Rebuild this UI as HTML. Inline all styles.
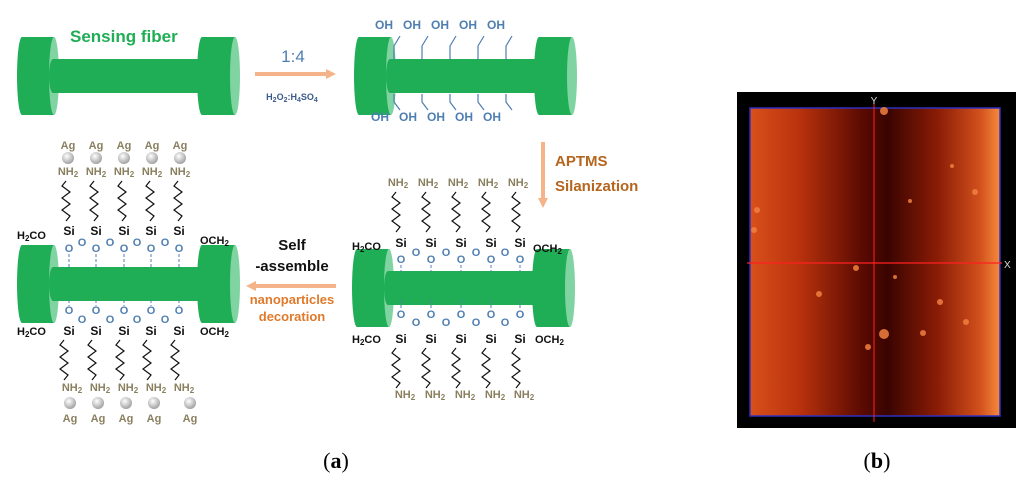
<!DOCTYPE html>
<html><head><meta charset="utf-8"><style>
html,body{margin:0;padding:0;background:#fff;}
svg{display:block;}
text{font-family:"Liberation Sans",sans-serif;font-weight:bold;}
.nh{fill:#8a8060;font-size:11px;text-anchor:middle;}
.ag{fill:#8a8060;font-size:11px;text-anchor:middle;}
.si{fill:#111;font-size:12px;text-anchor:middle;}
.o{fill:#4f7fb0;font-size:11px;text-anchor:middle;}
.oh{fill:#4f7fb0;font-size:12px;text-anchor:middle;}
.k{fill:#111;font-size:11px;}
.z{fill:none;stroke:#111;stroke-width:1.2;}
.d{stroke:#4f7fb0;stroke-width:1;stroke-dasharray:3,2;}
</style></head><body>
<svg width="1024" height="481" viewBox="0 0 1024 481" xmlns="http://www.w3.org/2000/svg">
<defs>
<g id="fib">
 <ellipse cx="5" cy="39" rx="5" ry="39" fill="#1fae55"/>
 <rect x="5" y="0" width="32" height="78" fill="#1fae55"/>
 <ellipse cx="37" cy="39" rx="5" ry="39" fill="#80d4a2"/>
 <rect x="36" y="22" width="150" height="34" fill="#1fae55"/>
 <ellipse cx="36" cy="39" rx="4" ry="17" fill="#1fae55"/>
 <ellipse cx="185" cy="39" rx="5" ry="39" fill="#1fae55"/>
 <rect x="185" y="0" width="33" height="78" fill="#1fae55"/>
 <ellipse cx="218" cy="39" rx="5" ry="39" fill="#80d4a2"/>
</g>
<marker id="ah" markerUnits="userSpaceOnUse" markerWidth="12" markerHeight="12" refX="4" refY="6" orient="auto"><path d="M0,1 L10,6 L0,11 z" fill="#f5b38a"/></marker>
<radialGradient id="sp" cx="0.4" cy="0.35" r="0.7"><stop offset="0" stop-color="#fff"/><stop offset="1" stop-color="#9a9a9a"/></radialGradient>
<linearGradient id="afm" x1="0" x2="1" y1="0" y2="0">
 <stop offset="0" stop-color="#d9501c"/><stop offset="0.2" stop-color="#b8320c"/><stop offset="0.45" stop-color="#5a0a02"/><stop offset="0.55" stop-color="#3a0400"/><stop offset="0.75" stop-color="#8a1c06"/><stop offset="0.92" stop-color="#d2501c"/><stop offset="1" stop-color="#f58a3c"/>
</linearGradient>
<polyline id="zz" class="z" points="0,0 -4,5 4,11 -4,17 4,23 -4,29 4,35 0,40"/>
</defs>

<use href="#fib" x="17" y="37"/>
<use href="#fib" x="354" y="37"/>
<use href="#fib" x="352" y="249"/>
<use href="#fib" x="17" y="245"/>

<text x="70" y="42" style="fill:#1fae55;font-size:17px;">Sensing fiber</text>
<line x1="255" y1="74" x2="330" y2="74" stroke="#f5b38a" stroke-width="4" marker-end="url(#ah)"/>
<text x="293" y="62" style="fill:#4f7fb0;font-size:17px;font-weight:normal;text-anchor:middle">1:4</text>
<text x="292" y="100" style="fill:#3a5a8a;font-size:9px;text-anchor:middle">H<tspan font-size="7" dy="2">2</tspan><tspan dy="-2">O</tspan><tspan font-size="7" dy="2">2</tspan><tspan dy="-2">:H</tspan><tspan font-size="7" dy="2">4</tspan><tspan dy="-2">SO</tspan><tspan font-size="7" dy="2">4</tspan></text>

<g class="oh">
<text x="384" y="29">OH</text><text x="412" y="29">OH</text><text x="440" y="29">OH</text><text x="468" y="29">OH</text><text x="496" y="29">OH</text>
<text x="380" y="121">OH</text><text x="408" y="121">OH</text><text x="436" y="121">OH</text><text x="464" y="121">OH</text><text x="492" y="121">OH</text>
</g>
<g stroke="#4f7fb0" stroke-width="1.2" fill="none">
<path d="M400,36 L394,46 L394,60"/><path d="M428,36 L422,46 L422,60"/><path d="M456,36 L450,46 L450,60"/><path d="M484,36 L478,46 L478,60"/><path d="M512,36 L506,46 L506,60"/>
<path d="M394,94 L394,102 L400,110"/><path d="M422,94 L422,102 L428,110"/><path d="M450,94 L450,102 L456,110"/><path d="M478,94 L478,102 L484,110"/><path d="M506,94 L506,102 L512,110"/>
</g>

<line x1="543" y1="142" x2="543" y2="202" stroke="#f5b38a" stroke-width="4" marker-end="url(#ah)"/>
<text x="555" y="166" style="fill:#b5651d;font-size:15px;">APTMS</text>
<text x="555" y="191" style="fill:#b5651d;font-size:15px;">Silanization</text>

<text x="292" y="250" style="fill:#111;font-size:15px;text-anchor:middle">Self</text>
<text x="292" y="271" style="fill:#111;font-size:15px;text-anchor:middle">-assemble</text>
<line x1="336" y1="286" x2="252" y2="286" stroke="#f5b38a" stroke-width="4" marker-end="url(#ah)"/>
<text x="292" y="304" style="fill:#e07a2a;font-size:13px;text-anchor:middle">nanoparticles</text>
<text x="292" y="321" style="fill:#e07a2a;font-size:13px;text-anchor:middle">decoration</text>

<g>
<g class="nh"><text x="398" y="186">NH<tspan font-size="8" dy="2">2</tspan></text><text x="428" y="186">NH<tspan font-size="8" dy="2">2</tspan></text><text x="458" y="186">NH<tspan font-size="8" dy="2">2</tspan></text><text x="488" y="186">NH<tspan font-size="8" dy="2">2</tspan></text><text x="518" y="186">NH<tspan font-size="8" dy="2">2</tspan></text></g>
<use href="#zz" x="396" y="192"/><use href="#zz" x="426" y="192"/><use href="#zz" x="456" y="192"/><use href="#zz" x="486" y="192"/><use href="#zz" x="516" y="192"/>
<g class="si"><text x="401" y="247">Si</text><text x="431" y="247">Si</text><text x="461" y="247">Si</text><text x="491" y="247">Si</text><text x="520" y="247">Si</text></g>
<text class="k" x="352" y="250">H<tspan font-size="8" dy="2">2</tspan><tspan dy="-2">CO</tspan></text>
<text class="k" x="533" y="252">OCH<tspan font-size="8" dy="2">2</tspan></text>
<g class="o"><text x="401" y="263">O</text><text x="431" y="263">O</text><text x="461" y="263">O</text><text x="491" y="263">O</text><text x="520" y="263">O</text><text x="416" y="256">O</text><text x="446" y="256">O</text><text x="476" y="256">O</text><text x="505" y="256">O</text></g>
<g class="d"><line x1="401" y1="265" x2="401" y2="272"/><line x1="431" y1="265" x2="431" y2="272"/><line x1="461" y1="265" x2="461" y2="272"/><line x1="491" y1="265" x2="491" y2="272"/><line x1="520" y1="265" x2="520" y2="272"/>
<line x1="401" y1="300" x2="401" y2="310"/><line x1="431" y1="300" x2="431" y2="310"/><line x1="461" y1="300" x2="461" y2="310"/><line x1="491" y1="300" x2="491" y2="310"/><line x1="520" y1="300" x2="520" y2="310"/></g>
<g class="o"><text x="401" y="318">O</text><text x="431" y="318">O</text><text x="461" y="318">O</text><text x="491" y="318">O</text><text x="520" y="318">O</text><text x="416" y="326">O</text><text x="446" y="326">O</text><text x="476" y="326">O</text><text x="505" y="326">O</text></g>
<g class="si"><text x="401" y="343">Si</text><text x="431" y="343">Si</text><text x="461" y="343">Si</text><text x="491" y="343">Si</text><text x="520" y="343">Si</text></g>
<text class="k" x="352" y="343">H<tspan font-size="8" dy="2">2</tspan><tspan dy="-2">CO</tspan></text>
<text class="k" x="535" y="343">OCH<tspan font-size="8" dy="2">2</tspan></text>
<use href="#zz" x="396" y="348"/><use href="#zz" x="426" y="348"/><use href="#zz" x="456" y="348"/><use href="#zz" x="486" y="348"/><use href="#zz" x="516" y="348"/>
<g class="nh"><text x="405" y="398">NH<tspan font-size="8" dy="2">2</tspan></text><text x="435" y="398">NH<tspan font-size="8" dy="2">2</tspan></text><text x="465" y="398">NH<tspan font-size="8" dy="2">2</tspan></text><text x="495" y="398">NH<tspan font-size="8" dy="2">2</tspan></text><text x="524" y="398">NH<tspan font-size="8" dy="2">2</tspan></text></g>
</g>

<g>
<g class="ag"><text x="68" y="149">Ag</text><text x="96" y="149">Ag</text><text x="124" y="149">Ag</text><text x="152" y="149">Ag</text><text x="180" y="149">Ag</text></g>
<g fill="url(#sp)"><circle cx="68" cy="158" r="6"/><circle cx="96" cy="158" r="6"/><circle cx="124" cy="158" r="6"/><circle cx="152" cy="158" r="6"/><circle cx="180" cy="158" r="6"/></g>
<g class="nh"><text x="68" y="175">NH<tspan font-size="8" dy="2">2</tspan></text><text x="96" y="175">NH<tspan font-size="8" dy="2">2</tspan></text><text x="124" y="175">NH<tspan font-size="8" dy="2">2</tspan></text><text x="152" y="175">NH<tspan font-size="8" dy="2">2</tspan></text><text x="180" y="175">NH<tspan font-size="8" dy="2">2</tspan></text></g>
<use href="#zz" x="66" y="181"/><use href="#zz" x="94" y="181"/><use href="#zz" x="122" y="181"/><use href="#zz" x="150" y="181"/><use href="#zz" x="178" y="181"/>
<g class="si"><text x="69" y="235">Si</text><text x="96" y="235">Si</text><text x="124" y="235">Si</text><text x="151" y="235">Si</text><text x="179" y="235">Si</text></g>
<text class="k" x="17" y="239">H<tspan font-size="8" dy="2">2</tspan><tspan dy="-2">CO</tspan></text>
<text class="k" x="200" y="244">OCH<tspan font-size="8" dy="2">2</tspan></text>
<g class="o"><text x="69" y="252">O</text><text x="96" y="252">O</text><text x="124" y="252">O</text><text x="151" y="252">O</text><text x="179" y="252">O</text><text x="82" y="246">O</text><text x="110" y="246">O</text><text x="137" y="246">O</text><text x="165" y="246">O</text></g>
<g class="d"><line x1="69" y1="254" x2="69" y2="267"/><line x1="96" y1="254" x2="96" y2="267"/><line x1="124" y1="254" x2="124" y2="267"/><line x1="151" y1="254" x2="151" y2="267"/><line x1="179" y1="254" x2="179" y2="267"/>
<line x1="69" y1="300" x2="69" y2="306"/><line x1="96" y1="300" x2="96" y2="306"/><line x1="124" y1="300" x2="124" y2="306"/><line x1="151" y1="300" x2="151" y2="306"/><line x1="179" y1="300" x2="179" y2="306"/></g>
<g class="o"><text x="69" y="314">O</text><text x="96" y="314">O</text><text x="124" y="314">O</text><text x="151" y="314">O</text><text x="179" y="314">O</text><text x="82" y="323">O</text><text x="110" y="323">O</text><text x="137" y="323">O</text><text x="165" y="323">O</text></g>
<g class="si"><text x="69" y="335">Si</text><text x="96" y="335">Si</text><text x="124" y="335">Si</text><text x="151" y="335">Si</text><text x="179" y="335">Si</text></g>
<text class="k" x="17" y="335">H<tspan font-size="8" dy="2">2</tspan><tspan dy="-2">CO</tspan></text>
<text class="k" x="200" y="335">OCH<tspan font-size="8" dy="2">2</tspan></text>
<use href="#zz" x="64" y="340"/><use href="#zz" x="92" y="340"/><use href="#zz" x="120" y="340"/><use href="#zz" x="147" y="340"/><use href="#zz" x="175" y="340"/>
<g class="nh"><text x="72" y="391">NH<tspan font-size="8" dy="2">2</tspan></text><text x="100" y="391">NH<tspan font-size="8" dy="2">2</tspan></text><text x="128" y="391">NH<tspan font-size="8" dy="2">2</tspan></text><text x="156" y="391">NH<tspan font-size="8" dy="2">2</tspan></text><text x="184" y="391">NH<tspan font-size="8" dy="2">2</tspan></text></g>
<g fill="url(#sp)"><circle cx="70" cy="403" r="6"/><circle cx="98" cy="403" r="6"/><circle cx="126" cy="403" r="6"/><circle cx="154" cy="403" r="6"/><circle cx="190" cy="403" r="6"/></g>
<g class="ag"><text x="70" y="422">Ag</text><text x="98" y="422">Ag</text><text x="126" y="422">Ag</text><text x="154" y="422">Ag</text><text x="190" y="422">Ag</text></g>
</g>

<rect x="737" y="92" width="279" height="336" fill="#000"/>
<rect x="750" y="108" width="250" height="308" fill="url(#afm)" stroke="#3030c0" stroke-width="1.5"/>
<g fill="#f08040" opacity="0.85">
<circle cx="884" cy="111" r="4"/><circle cx="884" cy="334" r="5"/><circle cx="856" cy="268" r="3"/><circle cx="819" cy="294" r="3"/><circle cx="966" cy="322" r="3"/><circle cx="940" cy="302" r="3"/><circle cx="923" cy="333" r="3"/><circle cx="975" cy="192" r="3"/><circle cx="757" cy="210" r="3"/><circle cx="754" cy="230" r="3"/><circle cx="868" cy="347" r="3"/><circle cx="895" cy="277" r="2"/><circle cx="910" cy="201" r="2"/><circle cx="952" cy="166" r="2"/>
</g>
<line x1="874" y1="100" x2="874" y2="422" stroke="#ff2020" stroke-width="1"/>
<line x1="747" y1="263" x2="1002" y2="263" stroke="#ff2020" stroke-width="1.2"/>
<text x="874" y="104" style="fill:#ddd;font-size:10px;font-weight:normal;text-anchor:middle">Y</text>
<text x="1004" y="268" style="fill:#ddd;font-size:10px;font-weight:normal">X</text>

<text x="336" y="468" style="font-family:'Liberation Serif',serif;font-size:22px;font-weight:normal;text-anchor:middle">(<tspan font-weight="bold">a</tspan>)</text>
<text x="877" y="468" style="font-family:'Liberation Serif',serif;font-size:22px;font-weight:normal;text-anchor:middle">(<tspan font-weight="bold">b</tspan>)</text>
</svg>
</body></html>
